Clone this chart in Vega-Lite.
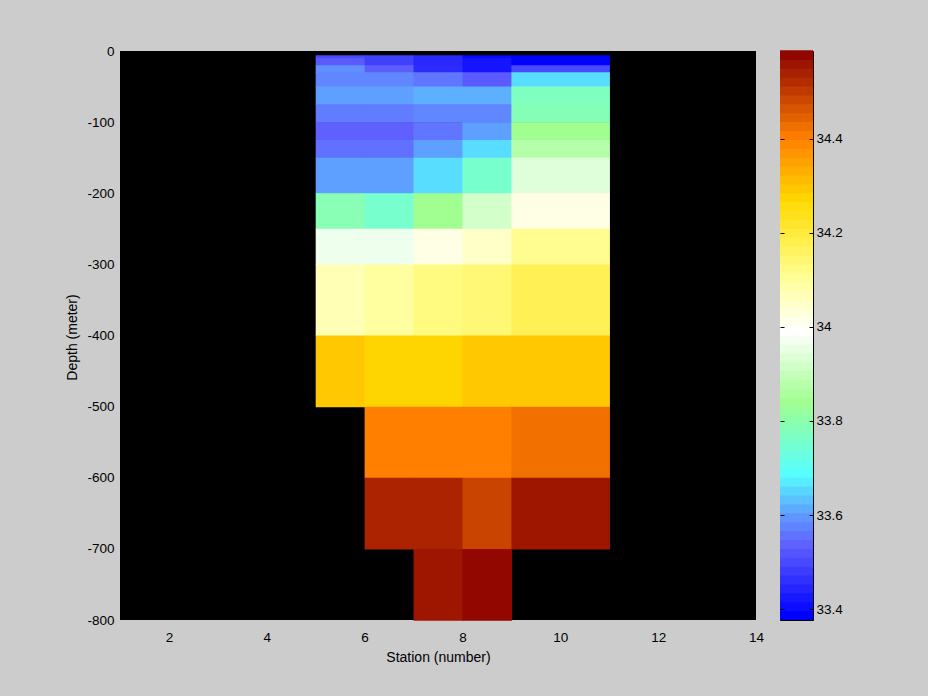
{
  "$schema": "https://vega.github.io/schema/vega-lite/v6.json",
  "background": "#cccccc",
  "padding": {"left": 65, "top": 44, "right": 86, "bottom": 31},
  "bounds": "flush",
  "spacing": 24,
  "config": {
    "font": "Liberation Sans",
    "view": {"stroke": null},
    "axis": {
      "labelFont": "Liberation Sans", "labelFontSize": 13.5, "labelColor": "black",
      "titleFont": "Liberation Sans", "titleFontSize": 14, "titleFontWeight": "normal", "titleColor": "black",
      "grid": false, "domain": false, "tickColor": "black"
    }
  },
  "hconcat": [
    {
      "width": 636,
      "height": 569,
      "view": {"fill": "black", "stroke": null},
      "data": {"values": [
        {"s0":5,"s1":6,"d0":-6,"d1":-10,"sal":33.50},
        {"s0":6,"s1":7,"d0":-6,"d1":-10,"sal":33.486},
        {"s0":7,"s1":8,"d0":-6,"d1":-10,"sal":33.449},
        {"s0":8,"s1":9,"d0":-6,"d1":-10,"sal":33.40},
        {"s0":9,"s1":11,"d0":-6,"d1":-10,"sal":33.387},
        {"s0":5,"s1":6,"d0":-10,"d1":-20,"sal":33.525},
        {"s0":6,"s1":7,"d0":-10,"d1":-20,"sal":33.486},
        {"s0":7,"s1":8,"d0":-10,"d1":-20,"sal":33.449},
        {"s0":8,"s1":9,"d0":-10,"d1":-20,"sal":33.418},
        {"s0":9,"s1":11,"d0":-10,"d1":-20,"sal":33.387},
        {"s0":5,"s1":6,"d0":-20,"d1":-30,"sal":33.59},
        {"s0":6,"s1":7,"d0":-20,"d1":-30,"sal":33.53},
        {"s0":7,"s1":8,"d0":-20,"d1":-30,"sal":33.455},
        {"s0":8,"s1":9,"d0":-20,"d1":-30,"sal":33.418},
        {"s0":9,"s1":11,"d0":-20,"d1":-30,"sal":33.50},
        {"s0":5,"s1":6,"d0":-30,"d1":-50,"sal":33.58},
        {"s0":6,"s1":7,"d0":-30,"d1":-50,"sal":33.58},
        {"s0":7,"s1":8,"d0":-30,"d1":-50,"sal":33.56},
        {"s0":8,"s1":9,"d0":-30,"d1":-50,"sal":33.526},
        {"s0":9,"s1":11,"d0":-30,"d1":-50,"sal":33.656},
        {"s0":5,"s1":6,"d0":-50,"d1":-75,"sal":33.604},
        {"s0":6,"s1":7,"d0":-50,"d1":-75,"sal":33.604},
        {"s0":7,"s1":8,"d0":-50,"d1":-75,"sal":33.618},
        {"s0":8,"s1":9,"d0":-50,"d1":-75,"sal":33.618},
        {"s0":9,"s1":11,"d0":-50,"d1":-75,"sal":33.775},
        {"s0":5,"s1":6,"d0":-75,"d1":-100,"sal":33.567},
        {"s0":6,"s1":7,"d0":-75,"d1":-100,"sal":33.567},
        {"s0":7,"s1":8,"d0":-75,"d1":-100,"sal":33.58},
        {"s0":8,"s1":9,"d0":-75,"d1":-100,"sal":33.58},
        {"s0":9,"s1":11,"d0":-75,"d1":-100,"sal":33.785},
        {"s0":5,"s1":6,"d0":-100,"d1":-125,"sal":33.535},
        {"s0":6,"s1":7,"d0":-100,"d1":-125,"sal":33.535},
        {"s0":7,"s1":8,"d0":-100,"d1":-125,"sal":33.56},
        {"s0":8,"s1":9,"d0":-100,"d1":-125,"sal":33.604},
        {"s0":9,"s1":11,"d0":-100,"d1":-125,"sal":33.84},
        {"s0":5,"s1":6,"d0":-125,"d1":-150,"sal":33.553},
        {"s0":6,"s1":7,"d0":-125,"d1":-150,"sal":33.553},
        {"s0":7,"s1":8,"d0":-125,"d1":-150,"sal":33.604},
        {"s0":8,"s1":9,"d0":-125,"d1":-150,"sal":33.656},
        {"s0":9,"s1":11,"d0":-125,"d1":-150,"sal":33.875},
        {"s0":5,"s1":6,"d0":-150,"d1":-200,"sal":33.604},
        {"s0":6,"s1":7,"d0":-150,"d1":-200,"sal":33.604},
        {"s0":7,"s1":8,"d0":-150,"d1":-200,"sal":33.656},
        {"s0":8,"s1":9,"d0":-150,"d1":-200,"sal":33.755},
        {"s0":9,"s1":11,"d0":-150,"d1":-200,"sal":33.94},
        {"s0":5,"s1":6,"d0":-200,"d1":-250,"sal":33.79},
        {"s0":6,"s1":7,"d0":-200,"d1":-250,"sal":33.755},
        {"s0":7,"s1":8,"d0":-200,"d1":-250,"sal":33.84},
        {"s0":8,"s1":9,"d0":-200,"d1":-250,"sal":33.92},
        {"s0":9,"s1":11,"d0":-200,"d1":-250,"sal":34.017},
        {"s0":5,"s1":6,"d0":-250,"d1":-300,"sal":33.965},
        {"s0":6,"s1":7,"d0":-250,"d1":-300,"sal":33.965},
        {"s0":7,"s1":8,"d0":-250,"d1":-300,"sal":34.017},
        {"s0":8,"s1":9,"d0":-250,"d1":-300,"sal":34.049},
        {"s0":9,"s1":11,"d0":-250,"d1":-300,"sal":34.109},
        {"s0":5,"s1":6,"d0":-300,"d1":-400,"sal":34.069},
        {"s0":6,"s1":7,"d0":-300,"d1":-400,"sal":34.092},
        {"s0":7,"s1":8,"d0":-300,"d1":-400,"sal":34.126},
        {"s0":8,"s1":9,"d0":-300,"d1":-400,"sal":34.138},
        {"s0":9,"s1":11,"d0":-300,"d1":-400,"sal":34.172},
        {"s0":5,"s1":6,"d0":-400,"d1":-500,"sal":34.292},
        {"s0":6,"s1":7,"d0":-400,"d1":-500,"sal":34.272},
        {"s0":7,"s1":8,"d0":-400,"d1":-500,"sal":34.272},
        {"s0":8,"s1":9,"d0":-400,"d1":-500,"sal":34.292},
        {"s0":9,"s1":11,"d0":-400,"d1":-500,"sal":34.292},
        {"s0":6,"s1":7,"d0":-500,"d1":-600,"sal":34.40},
        {"s0":7,"s1":8,"d0":-500,"d1":-600,"sal":34.40},
        {"s0":8,"s1":9,"d0":-500,"d1":-600,"sal":34.40},
        {"s0":9,"s1":11,"d0":-500,"d1":-600,"sal":34.423},
        {"s0":6,"s1":7,"d0":-600,"d1":-700,"sal":34.535},
        {"s0":7,"s1":8,"d0":-600,"d1":-700,"sal":34.535},
        {"s0":8,"s1":9,"d0":-600,"d1":-700,"sal":34.487},
        {"s0":9,"s1":11,"d0":-600,"d1":-700,"sal":34.554},
        {"s0":7,"s1":8,"d0":-700,"d1":-800,"sal":34.554},
        {"s0":8,"s1":9,"d0":-700,"d1":-800,"sal":34.575}
      ]},
      "mark": {"type": "rect", "x2Offset": 0.7, "y2Offset": 0.7},
      "encoding": {
        "x": {"field": "s0", "type": "quantitative", "title": "Station (number)",
              "scale": {"domain": [1, 14], "nice": false, "zero": false},
              "axis": {"values": [2,4,6,8,10,12,14], "ticks": false, "tickSize": 0, "labelPadding": 10.5, "labelFlush": false,
                       "titleY": 37.5, "titleBaseline": "middle", "labelExpr": "'' + datum.value"}},
        "x2": {"field": "s1"},
        "y": {"field": "d0", "type": "quantitative", "title": "Depth (meter)",
              "scale": {"domain": [-800, 0], "nice": false, "zero": false},
              "axis": {"values": [-800,-700,-600,-500,-400,-300,-200,-100,0], "ticks": false, "tickSize": 0, "labelPadding": 6,
                       "titleX": -48, "titleY": 286, "titleAngle": -90, "titleAlign": "center", "titleBaseline": "middle",
                       "labelExpr": "'' + datum.value"}},
        "y2": {"field": "d1"},
        "color": {"field": "sal", "type": "quantitative", "legend": null,
                  "scale": {"type": "linear", "interpolate": "rgb", "clamp": true, "zero": false, "nice": false,
                            "domain": [33.377, 33.387, 33.535, 33.59, 33.686, 33.84, 33.99, 34.10, 34.19, 34.268, 34.40, 34.586],
                            "range": ["#0000ff", "#0000ff", "#6060ff", "#6090ff", "#55ffff", "#a0ff90", "#ffffff", "#ffff99", "#ffee44", "#ffd800", "#ff8000", "#8b0000"]}}
      }
    },
    {
      "width": 33,
      "height": 569,
      "view": {"stroke": "black", "strokeWidth": 1},
      "data": {"values": [
        {"lo":33.3770,"hi":33.3959,"m":33.3864},{"lo":33.3959,"hi":33.4148,"m":33.4053},
        {"lo":33.4148,"hi":33.4337,"m":33.4242},{"lo":33.4337,"hi":33.4526,"m":33.4431},
        {"lo":33.4526,"hi":33.4715,"m":33.4620},{"lo":33.4715,"hi":33.4903,"m":33.4809},
        {"lo":33.4903,"hi":33.5092,"m":33.4998},{"lo":33.5092,"hi":33.5281,"m":33.5187},
        {"lo":33.5281,"hi":33.5470,"m":33.5376},{"lo":33.5470,"hi":33.5659,"m":33.5565},
        {"lo":33.5659,"hi":33.5848,"m":33.5753},{"lo":33.5848,"hi":33.6037,"m":33.5942},
        {"lo":33.6037,"hi":33.6226,"m":33.6131},{"lo":33.6226,"hi":33.6415,"m":33.6320},
        {"lo":33.6415,"hi":33.6604,"m":33.6509},{"lo":33.6604,"hi":33.6792,"m":33.6698},
        {"lo":33.6792,"hi":33.6981,"m":33.6887},{"lo":33.6981,"hi":33.7170,"m":33.7076},
        {"lo":33.7170,"hi":33.7359,"m":33.7265},{"lo":33.7359,"hi":33.7548,"m":33.7454},
        {"lo":33.7548,"hi":33.7737,"m":33.7643},{"lo":33.7737,"hi":33.7926,"m":33.7831},
        {"lo":33.7926,"hi":33.8115,"m":33.8020},{"lo":33.8115,"hi":33.8304,"m":33.8209},
        {"lo":33.8304,"hi":33.8493,"m":33.8398},{"lo":33.8493,"hi":33.8682,"m":33.8587},
        {"lo":33.8682,"hi":33.8871,"m":33.8776},{"lo":33.8871,"hi":33.9059,"m":33.8965},
        {"lo":33.9059,"hi":33.9248,"m":33.9154},{"lo":33.9248,"hi":33.9437,"m":33.9343},
        {"lo":33.9437,"hi":33.9626,"m":33.9532},{"lo":33.9626,"hi":33.9815,"m":33.9720},
        {"lo":33.9815,"hi":34.0004,"m":33.9909},{"lo":34.0004,"hi":34.0193,"m":34.0098},
        {"lo":34.0193,"hi":34.0382,"m":34.0287},{"lo":34.0382,"hi":34.0571,"m":34.0476},
        {"lo":34.0571,"hi":34.0760,"m":34.0665},{"lo":34.0760,"hi":34.0948,"m":34.0854},
        {"lo":34.0948,"hi":34.1137,"m":34.1043},{"lo":34.1137,"hi":34.1326,"m":34.1232},
        {"lo":34.1326,"hi":34.1515,"m":34.1421},{"lo":34.1515,"hi":34.1704,"m":34.1609},
        {"lo":34.1704,"hi":34.1893,"m":34.1798},{"lo":34.1893,"hi":34.2082,"m":34.1987},
        {"lo":34.2082,"hi":34.2271,"m":34.2176},{"lo":34.2271,"hi":34.2460,"m":34.2365},
        {"lo":34.2460,"hi":34.2649,"m":34.2554},{"lo":34.2649,"hi":34.2838,"m":34.2743},
        {"lo":34.2838,"hi":34.3026,"m":34.2932},{"lo":34.3026,"hi":34.3215,"m":34.3121},
        {"lo":34.3215,"hi":34.3404,"m":34.3310},{"lo":34.3404,"hi":34.3593,"m":34.3498},
        {"lo":34.3593,"hi":34.3782,"m":34.3687},{"lo":34.3782,"hi":34.3971,"m":34.3876},
        {"lo":34.3971,"hi":34.4160,"m":34.4065},{"lo":34.4160,"hi":34.4349,"m":34.4254},
        {"lo":34.4349,"hi":34.4538,"m":34.4443},{"lo":34.4538,"hi":34.4727,"m":34.4632},
        {"lo":34.4727,"hi":34.4916,"m":34.4821},{"lo":34.4916,"hi":34.5104,"m":34.5010},
        {"lo":34.5104,"hi":34.5293,"m":34.5199},{"lo":34.5293,"hi":34.5482,"m":34.5387},
        {"lo":34.5482,"hi":34.5671,"m":34.5576},{"lo":34.5671,"hi":34.5860,"m":34.5765}
      ]},
      "mark": {"type": "rect", "y2Offset": -0.7},
      "encoding": {
        "y": {"field": "lo", "type": "quantitative", "title": null,
              "scale": {"domain": [33.377, 34.586], "nice": false, "zero": false},
              "axis": {"orient": "right", "offset": -33, "tickSize": 33, "tickWidth": 1, "tickDash": [4, 25], "labelPadding": 3,
                       "zindex": 1, "values": [33.4, 33.6, 33.8, 34, 34.2, 34.4], "labelExpr": "'' + datum.value"}},
        "y2": {"field": "hi"},
        "color": {"field": "m", "type": "quantitative", "legend": null,
                  "scale": {"type": "linear", "interpolate": "rgb", "clamp": true, "zero": false, "nice": false,
                            "domain": [33.377, 33.387, 33.535, 33.59, 33.686, 33.84, 33.99, 34.10, 34.19, 34.268, 34.40, 34.586],
                            "range": ["#0000ff", "#0000ff", "#6060ff", "#6090ff", "#55ffff", "#a0ff90", "#ffffff", "#ffff99", "#ffee44", "#ffd800", "#ff8000", "#8b0000"]}}
      }
    }
  ]
}
